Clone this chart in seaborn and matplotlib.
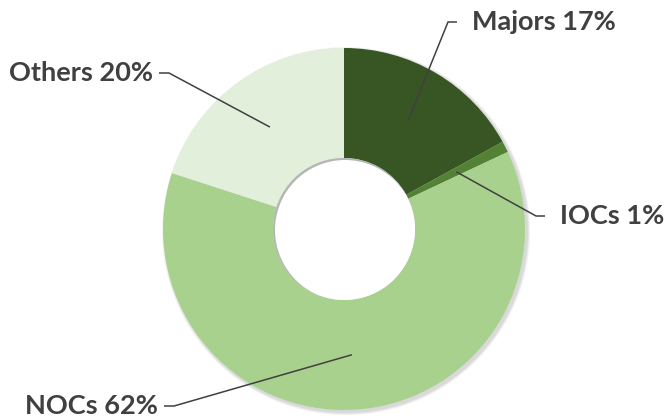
import numpy as np
import matplotlib.pyplot as plt
from matplotlib.patches import Circle
import seaborn as sns

# shares of the pie, clockwise from 12 o'clock
labels = ["Majors", "IOCs", "NOCs", "Others"]
shares = [17, 1, 62, 20]
colors = ["#375623", "#548235", "#A9D18E", "#E2EFDA"]

sns.set_theme(style="white")
plt.rcParams["font.family"] = ["Lato", "DejaVu Sans"]

W, H = 664, 419
fig = plt.figure(figsize=(W / 100, H / 100), dpi=100)
ax = fig.add_axes([0, 0, 1, 1])

cx, cy = 344, H - 229
r_out, r_in = 181, 71

# soft shadow under the ring
for k in range(3):
    ax.pie([1], radius=r_out + 1 + k, center=(cx + 2, cy - 2), colors=["#000000"],
           wedgeprops=dict(width=r_out - r_in + 2 * k + 2, alpha=0.05, linewidth=0),
           frame=True)

wedges, _ = ax.pie(shares, radius=r_out, center=(cx, cy), colors=colors,
                   startangle=90, counterclock=False, frame=True,
                   wedgeprops=dict(width=r_out - r_in, linewidth=0))

# inner shadow in the hole (top-left edge)
hole = Circle((cx, cy), r_in, facecolor="#b5b5b5", edgecolor="none", zorder=3)
ax.add_patch(hole)
for k, a in enumerate([0.45, 0.75, 1.0]):
    c = Circle((cx + 3 - k, cy - 3 + k), r_in - 1, facecolor="white",
               edgecolor="none", alpha=a, zorder=4)
    ax.add_patch(c)
    c.set_clip_path(hole)

ax.set_xlim(0, W)
ax.set_ylim(0, H)
ax.set_aspect("equal")
ax.axis("off")

# label anchors sit on the ring's middle radius at each wedge's mid-angle
r_mid = (r_out + r_in) / 2
text_pos = {"Majors": (472, H - 22, "left"), "IOCs": (560, H - 216, "left"),
            "NOCs": (158, H - 406, "right"), "Others": (153, H - 73, "right")}
for w, lab, s in zip(wedges, labels, shares):
    ang = np.deg2rad((w.theta1 + w.theta2) / 2)
    px, py = cx + r_mid * np.cos(ang), cy + r_mid * np.sin(ang)
    tx, ty, ha = text_pos[lab]
    if ha == "left":
        end, elbow = tx - 15, tx - 24
    else:
        end, elbow = tx + 6, tx + 16
    ax.plot([px, elbow, end], [py, ty, ty], color="#404040", lw=1.1,
            solid_capstyle="butt", zorder=5)
    ax.text(tx, ty, f"{lab} {s}%", ha=ha, va="center", fontsize=19.5,
            fontweight="bold", color="#404040", zorder=6)

fig.savefig("out.png", dpi=100, facecolor="white")
